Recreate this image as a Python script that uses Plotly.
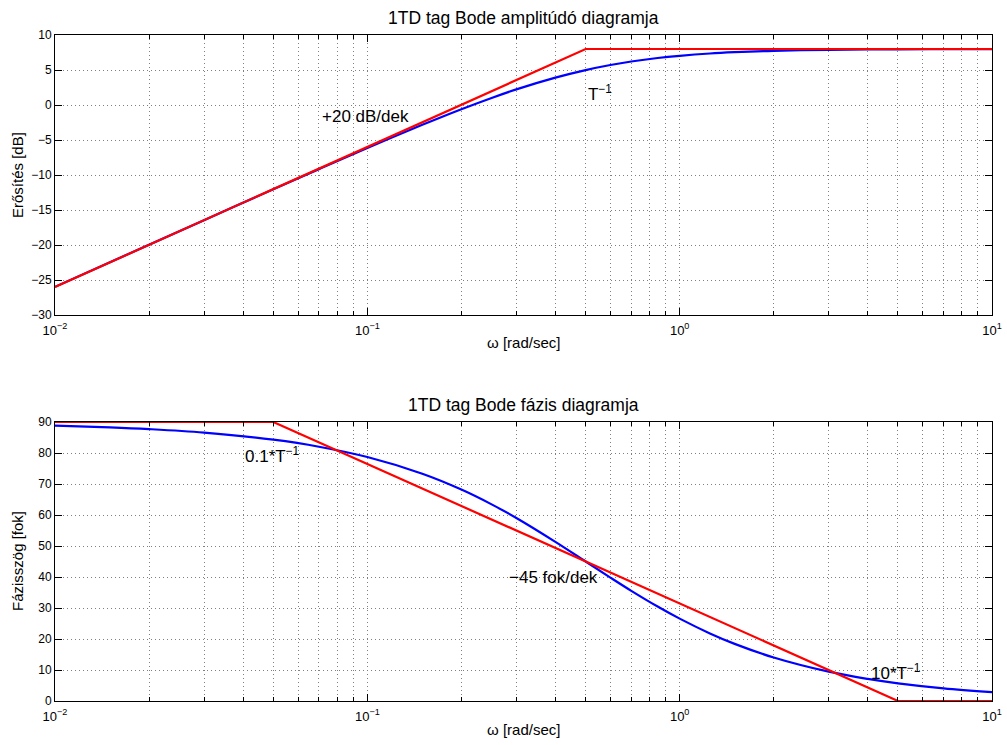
import math
import plotly.graph_objects as go

# ---- data ----
omega = [0.01, 0.015, 0.02, 0.03, 0.05, 0.07, 0.1, 0.15, 0.2, 0.25, 0.3, 0.4, 0.5,
         0.6, 0.7, 0.85, 1.0, 1.25, 1.5, 2.0, 3.0, 4.0, 5.0, 7.0, 10.0]
mag_db = [-25.98, -22.46, -19.97, -16.46, -12.04, -9.16, -6.15, -2.83, -0.60, 1.01, 2.23,
          3.91, 4.99, 5.71, 6.21, 6.71, 7.03, 7.36, 7.54, 7.74, 7.88, 7.93, 7.96, 7.98, 7.99]
phase_deg = [88.85, 88.28, 87.71, 86.57, 84.29, 82.03, 78.69, 73.30, 68.20, 63.43, 59.04,
             51.34, 45.00, 39.81, 35.54, 30.47, 26.57, 21.80, 18.43, 14.04, 9.46, 7.13,
             5.71, 4.09, 2.86]

asym_mag_w = [0.01, 0.5, 10.0]
asym_mag_db = [-26.0, 8.0, 8.0]
asym_ph_w = [0.01, 0.05, 5.0, 10.0]
asym_ph_deg = [90.0, 90.0, 0.0, 0.0]

major_x = [0.01, 0.1, 1, 10]
major_x_text = ["10<sup>−2</sup>", "10<sup>−1</sup>", "10<sup>0</sup>", "10<sup>1</sup>"]
minor_x = [m * d for d in (0.01, 0.1, 1) for m in range(2, 10)]

titles = ["1TD tag Bode amplitúdó diagramja", "1TD tag Bode fázis diagramja"]
xlabel = "ω [rad/sec]"
ylabels = ["Erősítés [dB]", "Fázisszög [fok]"]

W, H = 1007, 745
FONT = "Liberation Sans, Arial, Helvetica, sans-serif"
GRID = "#808080"
GDASH = "1px,3px"


def px(x):
    return x / W


def py(y):
    return 1 - y / H


fig = go.Figure()

fig.add_trace(go.Scatter(x=omega, y=mag_db, mode="lines", line=dict(color="#0000ff", width=2.2, shape="spline"),
                         xaxis="x", yaxis="y", showlegend=False))
fig.add_trace(go.Scatter(x=asym_mag_w, y=asym_mag_db, mode="lines", line=dict(color="#ff0000", width=2.2),
                         xaxis="x", yaxis="y", showlegend=False))
fig.add_trace(go.Scatter(x=omega, y=phase_deg, mode="lines", line=dict(color="#0000ff", width=2.2, shape="spline"),
                         xaxis="x2", yaxis="y2", showlegend=False))
fig.add_trace(go.Scatter(x=asym_ph_w, y=asym_ph_deg, mode="lines", line=dict(color="#ff0000", width=2.2),
                         xaxis="x2", yaxis="y2", showlegend=False))

xcommon = dict(type="log", range=[-2, 1], tickmode="array", tickvals=major_x, ticktext=major_x_text,
               ticks="inside", ticklen=7, tickcolor="black", tickwidth=1, automargin=False,
               ticklabelstandoff=3,
               showline=True, linecolor="black", linewidth=1, mirror="ticks",
               showgrid=True, gridcolor=GRID, griddash=GDASH, gridwidth=1,
               zeroline=False, tickfont=dict(family=FONT, size=13, color="black"),
               minor=dict(tickmode="array", tickvals=minor_x, ticks="inside", ticklen=4,
                          tickcolor="black", showgrid=True, gridcolor=GRID,
                          griddash=GDASH, gridwidth=1))
ycommon = dict(ticks="inside", ticklen=7, tickcolor="black", tickwidth=1, automargin=False,
               showline=True, linecolor="black", linewidth=1, mirror="ticks",
               showgrid=True, gridcolor=GRID, griddash=GDASH, gridwidth=1,
               zeroline=False, tickfont=dict(family=FONT, size=12, color="black"))

fig.update_layout(
    width=W, height=H, margin=dict(l=0, r=0, t=0, b=0, autoexpand=False),
    paper_bgcolor="white", plot_bgcolor="white",
    font=dict(family=FONT, color="black"),
    xaxis=dict(domain=[px(55), px(992)], anchor="y", **xcommon),
    yaxis=dict(domain=[py(315), py(35)], anchor="x", range=[-30, 10], dtick=5, tick0=0, **ycommon),
    xaxis2=dict(domain=[px(55), px(992)], anchor="y2", **xcommon),
    yaxis2=dict(domain=[py(701), py(422)], anchor="x2", range=[0, 90], dtick=10, tick0=0, **ycommon),
)

ann = []
# titles
ann.append(dict(text=titles[0], x=px(523.5), y=py(18), xref="paper", yref="paper",
                showarrow=False, xanchor="center", yanchor="middle", font=dict(size=17.5, family=FONT)))
ann.append(dict(text=titles[1], x=px(523.5), y=py(405), xref="paper", yref="paper",
                showarrow=False, xanchor="center", yanchor="middle", font=dict(size=17.5, family=FONT)))
# x labels
for yy in (343, 729):
    ann.append(dict(text=xlabel, x=px(523.5), y=py(yy), xref="paper", yref="paper",
                    showarrow=False, xanchor="center", yanchor="middle", font=dict(size=15, family=FONT)))
# y labels
ann.append(dict(text=ylabels[0], x=px(17), y=py(175), xref="paper", yref="paper", textangle=-90,
                showarrow=False, xanchor="center", yanchor="middle", font=dict(size=15, family=FONT)))
ann.append(dict(text=ylabels[1], x=px(17), y=py(561), xref="paper", yref="paper", textangle=-90,
                showarrow=False, xanchor="center", yanchor="middle", font=dict(size=15, family=FONT)))

# in-plot texts
texts = [
    ("x", "y", 0.0705, -1.7, "+20 dB/dek"),
    ("x", "y", 0.5, 1.7, "T<sup>−1</sup>"),
    ("x2", "y2", 0.04, 79.5, "0.1*T<sup>−1</sup>"),
    ("x2", "y2", 0.28, 40, "−45 fok/dek"),
    ("x2", "y2", 4.05, 9.5, "10*T<sup>−1</sup>"),
]
for xr, yr, xv, yv, t in texts:
    ann.append(dict(text=t, x=math.log10(xv), y=yv, xref=xr, yref=yr, showarrow=False,
                    xanchor="left", yanchor="middle", font=dict(size=17, family=FONT)))

fig.update_layout(annotations=ann)
fig.write_html("out.html")
